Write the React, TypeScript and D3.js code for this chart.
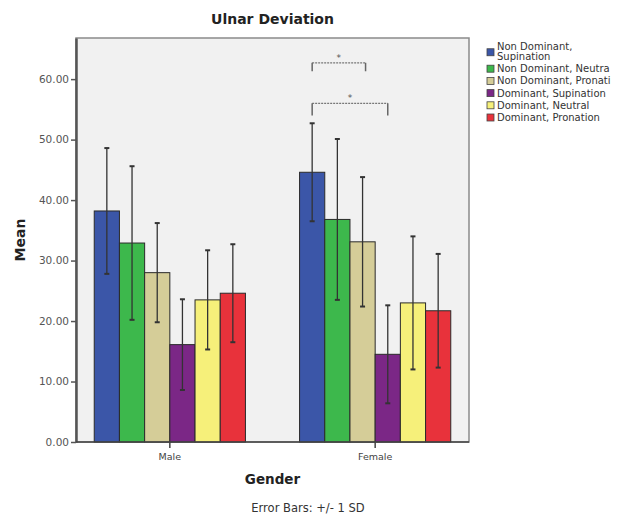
import React, { useRef, useEffect } from "react";
import { select, scaleLinear, scaleBand, scalePoint, axisLeft, format } from "d3";

const groups = ["Male", "Female"];
const series = [
  "Non Dominant, Supination",
  "Non Dominant, Neutra",
  "Non Dominant, Pronati",
  "Dominant, Supination",
  "Dominant, Neutral",
  "Dominant, Pronation",
];
const legendLines = [
  ["Non Dominant,", "Supination"],
  ["Non Dominant, Neutra"],
  ["Non Dominant, Pronati"],
  ["Dominant, Supination"],
  ["Dominant, Neutral"],
  ["Dominant, Pronation"],
];
const colors = ["#3b56a8", "#3db84c", "#d5cd98", "#7b2786", "#f6f07a", "#e8323b"];

const maleMeans = [38.2, 32.9, 28.0, 16.1, 23.5, 24.6];
const maleSD = [10.4, 12.7, 8.2, 7.5, 8.2, 8.1];
const femaleMeans = [44.6, 36.8, 33.1, 14.5, 23.0, 21.7];
const femaleSD = [8.1, 13.3, 10.7, 8.1, 11.0, 9.4];

const yTicks = [0, 10, 20, 30, 40, 50, 60];

// significance brackets (Female group): from series index, to series index, level, leg length
const sigFrom = [0, 0];
const sigTo = [2, 3];
const sigLevel = [62.7, 56.0];
const sigLeg = [1.4, 2.0];

const FONT = "'DejaVu Sans', Verdana, sans-serif";

function BarChart() {
  const svgRef = useRef<SVGSVGElement>(null);

  useEffect(() => {
    const svg = select(svgRef.current);
    svg.selectAll("*").remove();

    const margin = { top: 38, left: 76, right: 156, bottom: 73 };
    const width = 625;
    const height = 515;
    const plotRight = width - margin.right;
    const plotBottom = height - margin.bottom;

    const y = scaleLinear().domain([0, 66.8]).range([plotBottom, margin.top]);
    const x = scalePoint().domain(groups).range([margin.left, plotRight]).padding(0.457);
    const sub = scaleBand().domain(series).range([-75.6, 75.6]).padding(0);

    const data = groups.flatMap((g, gi) =>
      series.map((s, si) => ({
        group: g,
        series: s,
        idx: si,
        mean: gi === 0 ? maleMeans[si] : femaleMeans[si],
        sd: gi === 0 ? maleSD[si] : femaleSD[si],
      }))
    );

    // background
    svg
      .append("rect")
      .attr("x", margin.left)
      .attr("y", margin.top)
      .attr("width", plotRight - margin.left)
      .attr("height", plotBottom - margin.top)
      .attr("fill", "#f1f1f1")
      .attr("stroke", "#8a8a8a")
      .attr("stroke-width", 1.5);

    // title
    svg
      .append("text")
      .attr("x", (margin.left + plotRight) / 2)
      .attr("y", 24)
      .attr("text-anchor", "middle")
      .attr("font-family", FONT)
      .attr("font-weight", "bold")
      .attr("font-size", 14)
      .attr("fill", "#222")
      .text("Ulnar Deviation");

    // bars
    svg
      .append("g")
      .selectAll("rect")
      .data(data)
      .join("rect")
      .attr("x", (d) => (x(d.group) as number) + (sub(d.series) as number))
      .attr("y", (d) => y(d.mean))
      .attr("width", sub.bandwidth())
      .attr("height", (d) => y(0) - y(d.mean))
      .attr("fill", (d) => colors[d.idx])
      .attr("stroke", "#2a2a2a")
      .attr("stroke-width", 1);

    // error bars
    const err = svg.append("g").attr("stroke", "#333").attr("stroke-width", 1.3);
    data.forEach((d) => {
      const cx = (x(d.group) as number) + (sub(d.series) as number) + sub.bandwidth() / 2;
      err.append("line").attr("x1", cx).attr("x2", cx).attr("y1", y(d.mean + d.sd)).attr("y2", y(d.mean - d.sd));
      [d.mean + d.sd, d.mean - d.sd].forEach((v) => {
        err.append("line").attr("x1", cx - 2.5).attr("x2", cx + 2.5).attr("y1", y(v)).attr("y2", y(v)).attr("stroke-width", 2);
      });
    });

    // significance brackets
    const sig = svg.append("g");
    sigFrom.forEach((f, i) => {
      const x1 = (x("Female") as number) + (sub(series[f]) as number) + sub.bandwidth() / 2;
      const x2 = (x("Female") as number) + (sub(series[sigTo[i]]) as number) + sub.bandwidth() / 2 + (i === 0 ? 3 : 0);
      const top = y(sigLevel[i]);
      const bottom = y(sigLevel[i] - sigLeg[i]);
      sig
        .append("line")
        .attr("x1", x1)
        .attr("x2", x2)
        .attr("y1", top)
        .attr("y2", top)
        .attr("stroke", "#777")
        .attr("stroke-width", 1.2)
        .attr("stroke-dasharray", "2,1");
      [x1, x2].forEach((lx) => {
        sig
          .append("line")
          .attr("x1", lx)
          .attr("x2", lx)
          .attr("y1", top)
          .attr("y2", bottom)
          .attr("stroke", "#666")
          .attr("stroke-width", 1.5);
      });
      sig
        .append("text")
        .attr("x", (x1 + x2) / 2)
        .attr("y", top - 2)
        .attr("text-anchor", "middle")
        .attr("font-family", FONT)
        .attr("font-size", 9)
        .attr("fill", "#555")
        .text("*");
    });

    // y axis
    const yAxis = axisLeft(y)
      .tickValues(yTicks)
      .tickFormat(format(".2f"))
      .tickSize(5)
      .tickSizeOuter(0)
      .tickPadding(2);
    const yg = svg.append("g").attr("transform", `translate(${margin.left},0)`).call(yAxis);
    yg.select(".domain").attr("stroke", "#555").attr("stroke-width", 2.5);
    yg.selectAll(".tick line").attr("stroke", "#555").attr("stroke-width", 1.5);
    yg.selectAll(".tick text").attr("font-family", FONT).attr("font-size", 10.5).attr("fill", "#555");

    // x baseline and ticks
    svg
      .append("line")
      .attr("x1", margin.left)
      .attr("x2", plotRight)
      .attr("y1", y(0))
      .attr("y2", y(0))
      .attr("stroke", "#444")
      .attr("stroke-width", 1.5);
    const xg = svg.append("g");
    groups.forEach((g) => {
      xg.append("line")
        .attr("x1", x(g) as number)
        .attr("x2", x(g) as number)
        .attr("y1", y(0))
        .attr("y2", y(0) + 6)
        .attr("stroke", "#444")
        .attr("stroke-width", 1.5);
      xg.append("text")
        .attr("x", x(g) as number)
        .attr("y", y(0) + 18)
        .attr("text-anchor", "middle")
        .attr("font-family", FONT)
        .attr("font-size", 9.5)
        .attr("fill", "#444")
        .text(g);
    });

    // axis titles
    svg
      .append("text")
      .attr("transform", `translate(25,${(margin.top + plotBottom) / 2}) rotate(-90)`)
      .attr("text-anchor", "middle")
      .attr("font-family", FONT)
      .attr("font-weight", "bold")
      .attr("font-size", 14)
      .attr("fill", "#222")
      .text("Mean");
    svg
      .append("text")
      .attr("x", (margin.left + plotRight) / 2)
      .attr("y", 484)
      .attr("text-anchor", "middle")
      .attr("font-family", FONT)
      .attr("font-weight", "bold")
      .attr("font-size", 13.5)
      .attr("fill", "#222")
      .text("Gender");
    svg
      .append("text")
      .attr("x", 308)
      .attr("y", 512)
      .attr("text-anchor", "middle")
      .attr("font-family", FONT)
      .attr("font-size", 11.5)
      .attr("fill", "#333")
      .text("Error Bars: +/- 1 SD");

    // legend
    const legend = svg.append("g").attr("font-family", FONT).attr("font-size", 10).attr("fill", "#333");
    let ly = 46;
    legendLines.forEach((lines, i) => {
      const first = ly;
      lines.forEach((t, j) => {
        legend
          .append("text")
          .attr("x", 497)
          .attr("y", ly)
          .attr("dy", "0.35em")
          .text(t);
        ly += j < lines.length - 1 ? 10.5 : 12.2;
      });
      const last = ly - 12.2;
      legend
        .append("rect")
        .attr("x", 487)
        .attr("y", (first + last) / 2 - 3.5 + (lines.length > 1 ? 1 : 0))
        .attr("width", 7)
        .attr("height", 7)
        .attr("fill", colors[i])
        .attr("stroke", "#444")
        .attr("stroke-width", 0.8);
    });
  }, []);

  return <svg ref={svgRef} width={625} height={515} style={{ display: "block" }} />;
}

export default function App() {
  return (
    <>
      <style>{`body{margin:0}`}</style>
      <BarChart />
    </>
  );
}
